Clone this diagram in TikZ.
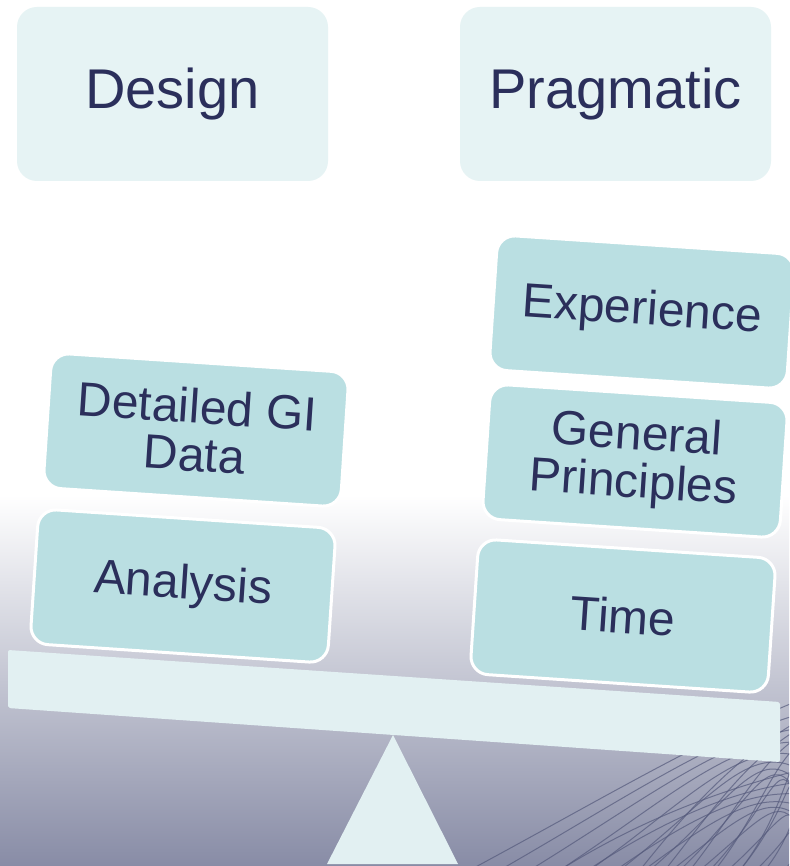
\documentclass[tikz,border=0pt]{standalone}
\usepackage{fontspec}
\setmainfont{Liberation Sans}
\definecolor{navy}{HTML}{2B2F5B}
\definecolor{boxteal}{HTML}{BADFE2}
\definecolor{paleteal}{HTML}{E6F3F4}
\definecolor{beamfill}{HTML}{E2F0F2}
\definecolor{bgbot}{HTML}{888CA6}
\definecolor{meshline}{HTML}{555A7C}
\tikzset{
  topbox/.style={fill=paleteal, rounded corners=20pt},
  toptext/.style={text=navy, font=\fontsize{56}{60}\selectfont},
  weight/.style={rectangle, rounded corners=18pt, minimum width=298pt, minimum height=135pt,
    fill=boxteal, draw=white, line width=3pt, text=navy, align=center, rotate=-3.8,
    font=\fontsize{48}{48}\selectfont},
  mesh/.style={draw=meshline, line width=1pt, opacity=0.7}
}
\begin{document}
\begin{tikzpicture}[x=1pt,y=-1pt]
\useasboundingbox (0,0) rectangle (789,866);
% background
\fill[white] (0,0) rectangle (789,866);
\shade[top color=white, bottom color=bgbot] (0,495) rectangle (789,866);
% decorative mesh
\begin{scope}
\clip (0,0) rectangle (789,866);
\foreach \k in {0,...,9}{
  \draw[mesh] (470+30*\k,870) .. controls (600+22*\k,800) and (700+10*\k,740) .. (800,700+14*\k);
}
\foreach \k in {0,...,8}{
  \draw[mesh] (560+28*\k,870) .. controls (640+24*\k,820) and (720+12*\k,790) .. (800,770+12*\k);
}
\foreach \k in {0,...,6}{
  \draw[mesh] (640+25*\k,870) .. controls (680+25*\k,820) and (730+15*\k,760) .. (800,720+8*\k);
}
\end{scope}
% top boxes
\fill[topbox] (17,7) rectangle (328,181);
\fill[topbox] (460,7) rectangle (771,181);
\node[toptext] (design) at (172.5,94) {Design};
\node[toptext] (pragmatic) at (615.5,94) {Pragmatic};
% fulcrum
\fill[beamfill] (393,735) -- (458,864) -- (327,864) -- cycle;
% beam
\fill[beamfill, rounded corners=2pt] (8,650) -- (780,702) -- (780,762) -- (8,708) -- cycle;
% weights
\node[weight] (analysis) at (183,586) {Analysis};
\node[weight] (gidata) at (196,430) {Detailed GI\\Data};
\node[weight] (time) at (623,616) {Time};
\node[weight] (principles) at (635,461) {General\\Principles};
\node[weight] (experience) at (642,312) {Experience};
\end{tikzpicture}
\end{document}
